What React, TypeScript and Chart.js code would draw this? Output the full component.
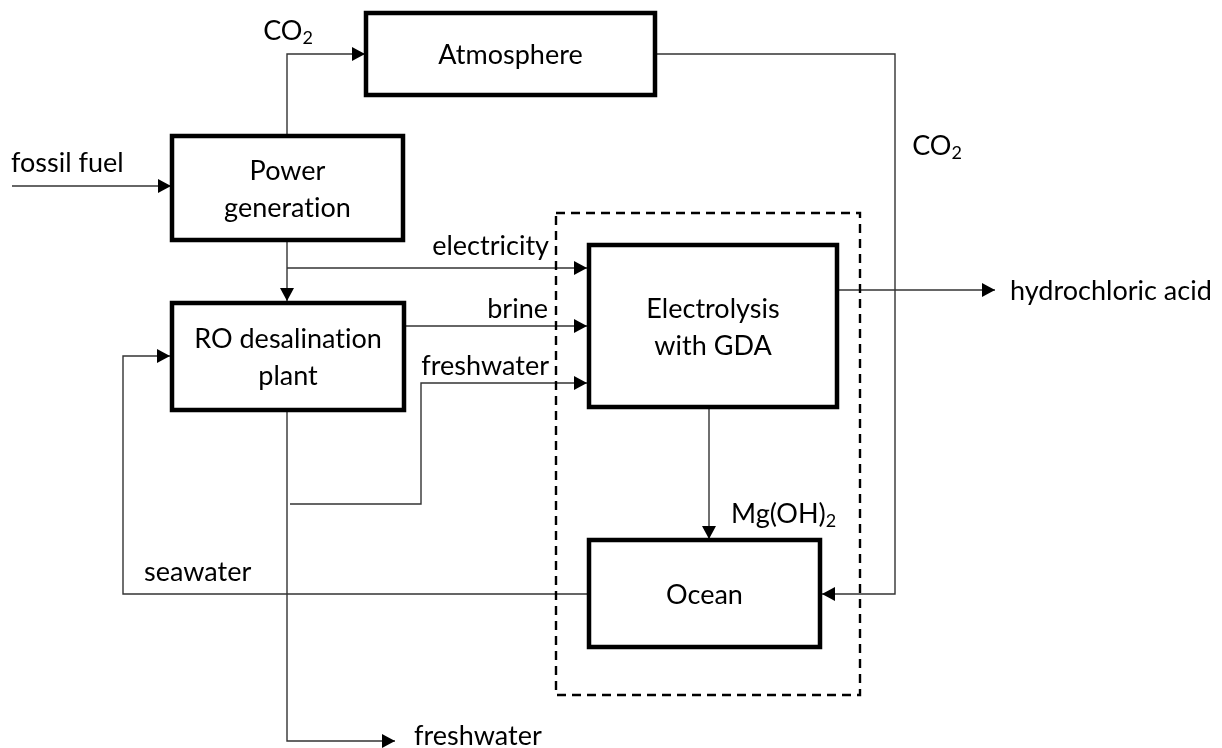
import React, { useEffect, useRef } from "react";
import { Chart, registerables } from "chart.js";

Chart.register(...registerables);

// ---- Diagram data (diagram coordinates: x 0..1222 left→right, y 0..748 top→bottom) ----
const boxNames = ["Atmosphere", "Power generation", "RO desalination plant", "Electrolysis with GDA", "Ocean"];
const boxTextLines = [["Atmosphere"], ["Power", "generation"], ["RO desalination", "plant"], ["Electrolysis", "with GDA"], ["Ocean"]];
const boxLeft = [366, 172, 172, 589, 589];
const boxRight = [655, 403, 404, 837, 820];
const boxTop = [13, 136, 303, 245, 540];
const boxBottom = [95, 240, 410, 407, 647];

const boundaryX = [556, 860];
const boundaryY = [213, 695];

const flowNames = [
  "fossil fuel", "CO2 to atmosphere", "CO2 to ocean", "power to RO", "electricity", "brine",
  "freshwater to electrolysis", "freshwater out", "Mg(OH)2", "hydrochloric acid", "seawater",
];
const flowX = [
  [12, 171],
  [287, 287, 365],
  [656, 895, 895, 822],
  [287, 287],
  [287, 587],
  [405, 587],
  [290, 421, 421, 587],
  [287, 287, 395],
  [709, 709],
  [838, 995],
  [588, 123, 123, 170],
];
const flowY = [
  [186, 186],
  [136, 54, 54],
  [54, 54, 594, 594],
  [240, 301],
  [268, 268],
  [326, 326],
  [504, 504, 383, 383],
  [411, 741, 741],
  [408, 539],
  [290, 290],
  [594, 594, 356, 356],
];

const labelText = ["CO₂", "CO₂", "fossil fuel", "electricity", "brine", "freshwater", "Mg(OH)₂", "hydrochloric acid", "seawater", "freshwater"];
const labelX = [288, 937, 11, 549, 548, 549, 731, 1010, 144, 414];
const labelY = [30, 145, 162, 245, 308, 365, 513, 290, 571, 735];
const labelAlign = ["center", "center", "left", "right", "right", "right", "left", "left", "left", "left"];

const FONT_FAMILY = 'Lato, "Open Sans", sans-serif';
const FONT_SIZE = 27;
const LINE_GAP = 37;

function drawRichText(ctx: CanvasRenderingContext2D, text: string, x: number, y: number, align: string) {
  const parts: { t: string; sub: boolean }[] = [];
  let buf = "";
  for (const ch of text) {
    if (ch === "₂") {
      if (buf) parts.push({ t: buf, sub: false });
      buf = "";
      parts.push({ t: "2", sub: true });
    } else buf += ch;
  }
  if (buf) parts.push({ t: buf, sub: false });
  const mainFont = `${FONT_SIZE}px ${FONT_FAMILY}`;
  const subFont = `${Math.round(FONT_SIZE * 0.68)}px ${FONT_FAMILY}`;
  try {
    (ctx as any).letterSpacing = "0.01px"; // avoids the "ti" ligature
  } catch (e) {
    /* ignore */
  }
  let total = 0;
  const widths = parts.map((p) => {
    ctx.font = p.sub ? subFont : mainFont;
    const w = ctx.measureText(p.t).width;
    total += w;
    return w;
  });
  let cx = x;
  if (align === "center") cx = x - total / 2;
  else if (align === "right") cx = x - total;
  ctx.textAlign = "left";
  ctx.textBaseline = "alphabetic";
  const baseline = y + FONT_SIZE * 0.38;
  parts.forEach((p, i) => {
    ctx.font = p.sub ? subFont : mainFont;
    ctx.fillText(p.t, cx, p.sub ? baseline + FONT_SIZE * 0.12 : baseline);
    cx += widths[i];
  });
}

const diagramPlugin = {
  id: "diagramPlugin",
  beforeDraw(chart: any) {
    const ctx = chart.ctx;
    ctx.save();
    ctx.fillStyle = "#ffffff";
    ctx.fillRect(0, 0, chart.width, chart.height);
    ctx.restore();
  },
  afterDatasetsDraw(chart: any) {
    const ctx: CanvasRenderingContext2D = chart.ctx;
    const xs = chart.scales.x;
    const ys = chart.scales.y;
    ctx.save();
    // arrowheads
    ctx.fillStyle = "#000000";
    flowX.forEach((fx, i) => {
      const fy = flowY[i];
      const n = fx.length;
      const x1 = xs.getPixelForValue(fx[n - 2]);
      const y1 = ys.getPixelForValue(fy[n - 2]);
      const x2 = xs.getPixelForValue(fx[n - 1]);
      const y2 = ys.getPixelForValue(fy[n - 1]);
      const ang = Math.atan2(y2 - y1, x2 - x1);
      const len = 13;
      const half = 7;
      ctx.beginPath();
      ctx.moveTo(x2, y2);
      ctx.lineTo(x2 - len * Math.cos(ang) + half * Math.sin(ang), y2 - len * Math.sin(ang) - half * Math.cos(ang));
      ctx.lineTo(x2 - len * Math.cos(ang) - half * Math.sin(ang), y2 - len * Math.sin(ang) + half * Math.cos(ang));
      ctx.closePath();
      ctx.fill();
    });
    // box texts
    ctx.fillStyle = "#000000";
    boxTextLines.forEach((lines, i) => {
      const cx = xs.getPixelForValue((boxLeft[i] + boxRight[i]) / 2);
      const cy = ys.getPixelForValue((boxTop[i] + boxBottom[i]) / 2);
      const startY = cy - ((lines.length - 1) * LINE_GAP) / 2;
      lines.forEach((t, j) => drawRichText(ctx, t, cx, startY + j * LINE_GAP, "center"));
    });
    // flow labels
    labelText.forEach((t, i) => {
      drawRichText(ctx, t, xs.getPixelForValue(labelX[i]), ys.getPixelForValue(labelY[i]), labelAlign[i]);
    });
    ctx.restore();
  },
};

export default function App() {
  const canvasRef = useRef<HTMLCanvasElement | null>(null);

  useEffect(() => {
    if (!canvasRef.current) return;
    const datasets: any[] = [];

    boxNames.forEach((name, i) => {
      datasets.push({
        label: name,
        data: [
          { x: boxLeft[i], y: boxTop[i] },
          { x: boxRight[i], y: boxTop[i] },
          { x: boxRight[i], y: boxBottom[i] },
          { x: boxLeft[i], y: boxBottom[i] },
          { x: boxLeft[i], y: boxTop[i] },
        ],
        showLine: true,
        borderColor: "#000000",
        borderWidth: 4.5,
        borderJoinStyle: "miter",
        borderCapStyle: "square",
        pointRadius: 0,
        fill: false,
        tension: 0,
        clip: false,
      });
    });

    datasets.push({
      label: "system boundary",
      data: [
        { x: boundaryX[0], y: boundaryY[0] },
        { x: boundaryX[1], y: boundaryY[0] },
        { x: boundaryX[1], y: boundaryY[1] },
        { x: boundaryX[0], y: boundaryY[1] },
        { x: boundaryX[0], y: boundaryY[0] },
      ],
      showLine: true,
      borderColor: "#000000",
      borderWidth: 2.4,
      borderDash: [9, 6],
      borderJoinStyle: "miter",
      pointRadius: 0,
      fill: false,
      tension: 0,
      clip: false,
    });

    flowNames.forEach((name, i) => {
      datasets.push({
        label: name,
        data: flowX[i].map((x, j) => ({ x, y: flowY[i][j] })),
        showLine: true,
        borderColor: "#333333",
        borderWidth: 1.4,
        borderJoinStyle: "miter",
        pointRadius: 0,
        fill: false,
        tension: 0,
        clip: false,
      });
    });

    const chart = new Chart(canvasRef.current, {
      type: "scatter",
      data: { datasets },
      options: {
        responsive: false,
        maintainAspectRatio: false,
        animation: false,
        events: [],
        layout: { padding: 0 },
        plugins: { legend: { display: false }, tooltip: { enabled: false } },
        scales: {
          x: { type: "linear", min: 0, max: 1222, display: false },
          y: { type: "linear", min: 0, max: 748, reverse: true, display: false },
        },
      },
      plugins: [diagramPlugin],
    } as any);
    return () => chart.destroy();
  }, []);

  return (
    <div style={{ position: "fixed", left: 0, top: 0, width: 1222, height: 748, background: "#fff" }}>
      <canvas ref={canvasRef} width={1222} height={748} style={{ display: "block" }} />
    </div>
  );
}
